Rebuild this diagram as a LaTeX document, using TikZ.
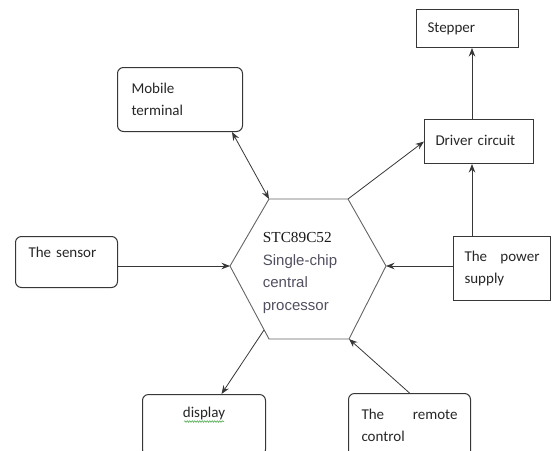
\documentclass[tikz,border=0pt]{standalone}
\usepackage{fontspec}
\setmainfont{Carlito}
\newfontfamily\cpufont{Liberation Sans}
\newfontfamily\chipfont{Liberation Serif}
\usetikzlibrary{arrows.meta, decorations.pathmorphing}
\definecolor{linegray}{RGB}{55,55,55}
\definecolor{hexgray}{RGB}{100,100,100}
\definecolor{cputext}{RGB}{80,80,96}
\definecolor{spellgreen}{RGB}{90,175,90}

\begin{document}
\begin{tikzpicture}[x=1pt, y=-1pt,
    every node/.style={font=\fontsize{15}{22}\selectfont, text=black!85},
    block/.style={draw=linegray, line width=1pt, anchor=north west, align=left},
    roundblock/.style={block, rounded corners=6pt},
    link/.style={draw=linegray, line width=0.8pt, ->, >={Stealth[length=8.5pt, width=6.5pt]}}]
    \useasboundingbox (0,0) rectangle (553,450);
    \clip (0,0) rectangle (553,450);
    \coordinate (hexTL) at (269,199);
    \coordinate (hexTR) at (348,199);
    \coordinate (hexR) at (386,266);
    \coordinate (hexBR) at (349,339);
    \coordinate (hexBL) at (269,339);
    \coordinate (hexL) at (230,266);
    \coordinate (hexD) at (264,330);
    \coordinate (col) at (472,0);
    \draw[hexgray, line width=0.9pt] (hexTL) -- (hexTR) -- (hexR) -- (hexBR) -- (hexBL) -- (hexL) -- cycle;
    \node[text=cputext, align=left, inner sep=0pt, font=\cpufont\fontsize{15}{22.5}\selectfont] (cpu) at (300,273)
        {{\chipfont\fontsize{15.3}{22.5}\selectfont\textcolor{black!90}{STC89C52}}\\Single-chip\\central\\processor};
    \node[block, minimum width=102pt, minimum height=38pt, text width=80pt, inner xsep=11pt, inner ysep=0pt,
        text height=10pt, text depth=3pt] (stepper) at (416,9) {Stepper};
    \node[block, minimum width=109pt, minimum height=44pt, text width=87pt, inner xsep=11pt, inner ysep=0pt,
        text height=10pt, text depth=3pt] (driver) at (424,119) {Driver circuit};
    \node[block, minimum width=97pt, minimum height=64pt, text width=75pt, inner xsep=11pt, inner ysep=0pt] (power) at (453,236)
        {The\hfill power\\supply};
    \node[roundblock, minimum width=125pt, minimum height=64pt, text width=97pt, inner xsep=14pt, inner ysep=0pt] (mobile) at (117,67)
        {Mobile\\terminal};
    \node[roundblock, minimum width=102pt, text width=76pt, inner xsep=13pt, inner ysep=11pt,
        text height=10pt, text depth=19pt] (sensor) at (15,236) {The sensor};
    \node[roundblock, minimum width=123pt, text width=97pt, inner xsep=13pt, inner ysep=13pt, align=center,
        text height=10pt, text depth=25pt] (display) at (142,394) {display};
    \node[roundblock, minimum width=122pt, text width=96pt, inner xsep=13pt, inner ysep=16pt] (remote) at (348,393)
        {The\hfill remote\\control};
    \draw[spellgreen, line width=0.6pt, decorate, decoration={snake, amplitude=0.8pt, segment length=2.5pt}]
        ([xshift=-20pt, yshift=-4pt]display.base) -- ([xshift=20pt, yshift=-4pt]display.base);
    \draw[link] (sensor.east |- hexL) -- (hexL);
    \draw[link] (power.west |- hexR) -- (hexR);
    \draw[link, <->] (mobile.-32) -- (hexTL);
    \draw[link] (hexTR) -- (driver.west);
    \draw[link] (hexD) -- ([xshift=17.5pt]display.north);
    \draw[link] (remote.north) -- (hexBR);
    \draw[link] (driver.north -| col) -- (stepper.south -| col);
    \draw[link] (power.north -| col) -- (driver.south -| col);
\end{tikzpicture}
\end{document}
